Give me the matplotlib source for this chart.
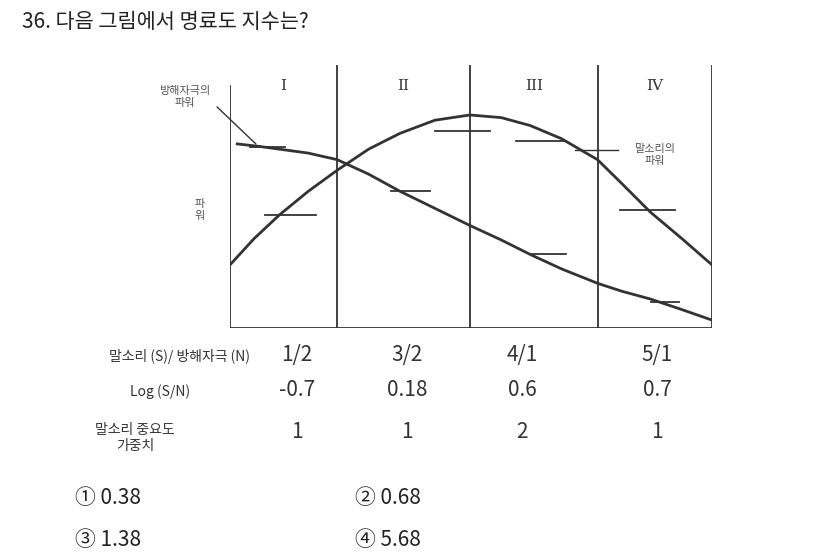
import matplotlib
matplotlib.use("Agg")
import matplotlib.pyplot as plt

plt.rcParams["font.family"] = ["Noto Sans CJK KR", "DejaVu Sans"]

W, H = 826, 556

# band boundaries along x (0..4) and Roman labels
bounds = [0, 0.89, 1.99, 3.05, 4]
bands = ["I", "II", "III", "IV"]

# curve values (x in band units, y relative power 0..1)
noise_x = [0.06, 0.25, 0.41, 0.65, 0.89, 1.15, 1.41, 1.70, 1.99, 2.25, 2.49,
           2.75, 3.05, 3.25, 3.49, 3.75, 4.0]
noise_y = [0.70, 0.69, 0.68, 0.665, 0.64, 0.585, 0.52, 0.455, 0.39, 0.335, 0.28,
           0.225, 0.17, 0.14, 0.11, 0.07, 0.03]
speech_x = [0.0, 0.2, 0.41, 0.65, 0.89, 1.15, 1.41, 1.70, 1.99, 2.25, 2.49,
            2.75, 3.05, 3.25, 3.49, 3.75, 4.0]
speech_y = [0.24, 0.34, 0.43, 0.52, 0.60, 0.68, 0.74, 0.79, 0.81, 0.80, 0.77,
            0.72, 0.64, 0.55, 0.44, 0.34, 0.24]

# short tick marks on curves: (x_start, x_end, y)
marks = [(0.17, 0.46, 0.69), (0.29, 0.71, 0.43), (1.34, 1.66, 0.52),
         (1.70, 2.16, 0.75), (2.37, 2.79, 0.71), (2.49, 2.79, 0.28),
         (3.24, 3.69, 0.45), (3.49, 3.73, 0.10)]

ratios = ["1/2", "3/2", "4/1", "5/1"]
logs = ["-0.7", "0.18", "0.6", "0.7"]
weights = ["1", "1", "2", "1"]
col_px = [297, 407, 522, 657]

options = [("① 0.38", 75, 498), ("② 0.68", 355, 498),
           ("③ 1.38", 75, 540), ("④ 5.68", 355, 540)]

fig = plt.figure(figsize=(W / 100, H / 100), dpi=100)
bg = fig.add_axes([0, 0, 1, 1])
bg.set_xlim(0, W)
bg.set_ylim(H, 0)
bg.axis("off")

left, right, top, bottom = 230, 712, 65, 328
ax = fig.add_axes([left / W, 1 - bottom / H, (right - left) / W, (bottom - top) / H])
ax.set_xlim(0, 4)
ax.set_ylim(0, 1)
ax.axis("off")

for b in bounds:
    ymax = 0.92 if b == 0 else 1.0
    ax.plot([b, b], [0, ymax], color="#333333", lw=1.3)
ax.plot([0, 4], [0, 0], color="#333333", lw=1.3)
for i, lab in enumerate(bands):
    ax.text((bounds[i] + bounds[i + 1]) / 2, 0.92, lab, ha="center", va="center",
            fontsize=11, color="#333333", family="DejaVu Serif")

ax.plot(noise_x, noise_y, color="#333333", lw=2)
ax.plot(speech_x, speech_y, color="#333333", lw=2)
for x0, x1, y in marks:
    ax.plot([x0, x1], [y, y], color="#333333", lw=1.3)

bg.text(22, 22, "36. 다음 그림에서 명료도 지수는?", fontsize=15, va="center", color="#222222")
bg.text(185, 97, "방해자극의\n파워", fontsize=8, ha="center", va="center", color="#555555")
bg.annotate("", xy=(258, 146), xytext=(215, 105),
            arrowprops=dict(arrowstyle="-", color="#333333", lw=1))
bg.text(655, 155, "말소리의\n파워", fontsize=8, ha="center", va="center", color="#555555")
bg.plot([575, 618], [150, 150], color="#333333", lw=1)
bg.text(200, 210, "파\n워", fontsize=8, ha="center", va="center", color="#555555")

bg.text(250, 357, "말소리 (S)/ 방해자극 (N)", fontsize=10, ha="right", va="center", color="#333333")
bg.text(160, 392, "Log (S/N)", fontsize=10, ha="center", va="center", color="#333333")
bg.text(135, 438, "말소리 중요도\n가중치", fontsize=10, ha="center", va="center", color="#333333")
for x, r, l, w in zip(col_px, ratios, logs, weights):
    bg.text(x, 355, r, fontsize=15, ha="center", va="center", color="#333333")
    bg.text(x, 390, l, fontsize=15, ha="center", va="center", color="#333333")
    bg.text(x, 432, w, fontsize=15, ha="center", va="center", color="#333333")

for s, x, y in options:
    bg.text(x, y, s, fontsize=15, va="center", color="#222222")

fig.savefig("out.png", dpi=100)
